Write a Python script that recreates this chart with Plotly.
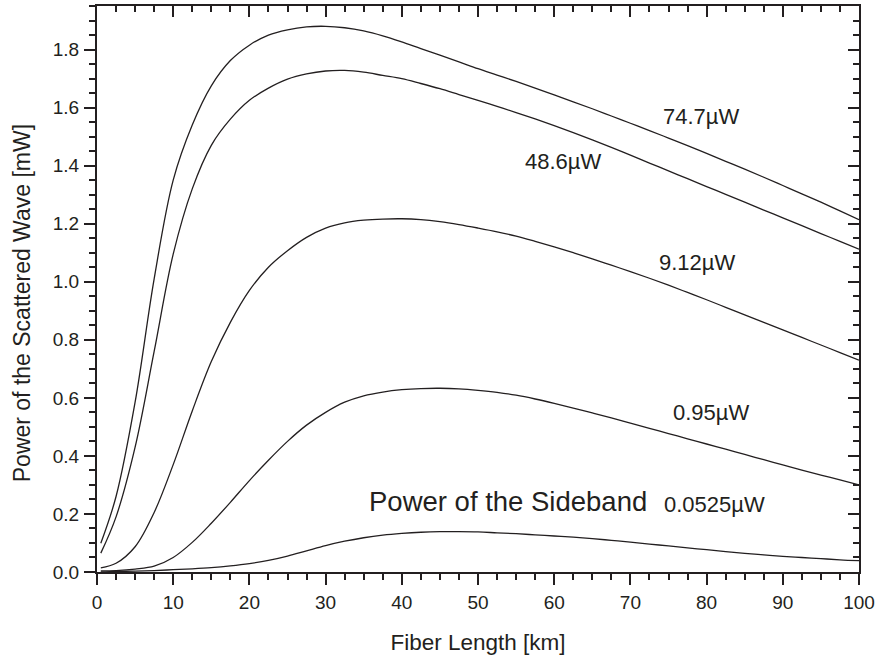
import plotly.graph_objects as go

# ---- data (fiber length in km, power in mW) ----
fiber_km = [0.5, 2.5, 5, 7.5, 10, 12.5, 15, 17.5, 20, 22.5, 25, 27.5, 30, 32.5, 35, 37.5, 40,
            42.5, 45, 47.5, 50, 52.5, 55, 57.5, 60, 62.5, 65, 67.5, 70, 72.5, 75, 77.5, 80,
            82.5, 85, 87.5, 90, 92.5, 95, 97.5, 100]

p_747 = [0.099, 0.26, 0.585, 1.01, 1.35, 1.54, 1.675, 1.762, 1.815, 1.85, 1.868, 1.878, 1.88,
         1.875, 1.864, 1.847, 1.826, 1.803, 1.7805, 1.7575, 1.734, 1.712, 1.69, 1.667, 1.6435,
         1.62, 1.596, 1.571, 1.546, 1.521, 1.495, 1.469, 1.442, 1.415, 1.388, 1.36, 1.3315,
         1.303, 1.274, 1.244, 1.214]

p_486 = [0.065, 0.19, 0.43, 0.76, 1.095, 1.32, 1.47, 1.56, 1.625, 1.667, 1.698, 1.716, 1.726,
         1.728, 1.722, 1.711, 1.70, 1.683, 1.665, 1.645, 1.625, 1.604, 1.583, 1.561, 1.538,
         1.514, 1.489, 1.463, 1.436, 1.409, 1.382, 1.355, 1.328, 1.301, 1.274, 1.247, 1.22,
         1.193, 1.166, 1.139, 1.112]

p_912 = [0.014, 0.03, 0.087, 0.205, 0.37, 0.555, 0.725, 0.86, 0.97, 1.05, 1.107, 1.153, 1.185,
         1.203, 1.212, 1.216, 1.217, 1.214, 1.207, 1.197, 1.185, 1.172, 1.157, 1.139, 1.12,
         1.10, 1.079, 1.057, 1.035, 1.012, 0.988, 0.963, 0.938, 0.912, 0.886, 0.86, 0.834,
         0.808, 0.782, 0.756, 0.73]

p_095 = [0.004, 0.005, 0.01, 0.02, 0.05, 0.102, 0.168, 0.24, 0.315, 0.385, 0.45, 0.506, 0.55,
         0.585, 0.607, 0.62, 0.628, 0.632, 0.633, 0.631, 0.626, 0.619, 0.609, 0.596, 0.581,
         0.565, 0.548, 0.531, 0.513, 0.495, 0.477, 0.459, 0.441, 0.423, 0.405, 0.387, 0.369,
         0.351, 0.334, 0.317, 0.30]

p_0525 = [0.0, 0.002, 0.003, 0.005, 0.008, 0.011, 0.015, 0.021, 0.029, 0.04, 0.055, 0.073,
          0.091, 0.106, 0.118, 0.127, 0.133, 0.137, 0.139, 0.139, 0.138, 0.135, 0.132, 0.128,
          0.124, 0.12, 0.115, 0.109, 0.103, 0.096, 0.09, 0.083, 0.077, 0.07, 0.064, 0.059,
          0.054, 0.05, 0.046, 0.042, 0.039]

series_names = ["74.7µW", "48.6µW", "9.12µW", "0.95µW", "0.0525µW"]
series_values = [p_747, p_486, p_912, p_095, p_0525]

# curve labels (text, anchor in data units)
label_texts = ["74.7µW", "48.6µW", "9.12µW", "0.95µW", "0.0525µW"]
label_x = [79.2, 61.2, 78.8, 80.6, 81.0]
label_y = [1.57, 1.416, 1.067, 0.549, 0.233]
sideband_text = "Power of the Sideband"
sideband_x = 72.5
sideband_y = 0.243

x_title = "Fiber Length [km]"
y_title = "Power of the Scattered Wave [mW]"

FONT = "Liberation Sans, Arial, sans-serif"
INK = "#231f20"

fig = go.Figure()
for name, ys in zip(series_names, series_values):
    fig.add_trace(go.Scatter(x=fiber_km, y=ys, mode="lines", name=name,
                             line=dict(color=INK, width=1.3, shape="spline", smoothing=1.0),
                             showlegend=False, hoverinfo="skip"))

# invisible trace so the mirrored (inside) tick axes are drawn
fig.add_trace(go.Scatter(x=[None], y=[None], xaxis="x2", yaxis="y2", showlegend=False))

xr = [0, 100]
yr = [0, 1.95]

fig.update_layout(
    width=879, height=655,
    margin=dict(l=97, r=19, t=4, b=81),
    paper_bgcolor="white", plot_bgcolor="white",
    font=dict(family=FONT, color=INK, size=19),
    xaxis=dict(range=xr, dtick=10, tick0=0, ticks="outside", ticklen=11, tickwidth=2,
               tickcolor=INK, showline=True, linewidth=2, linecolor=INK, mirror=True,
               showgrid=False, zeroline=False, tickfont=dict(size=19), ticklabelstandoff=1,
               minor=dict(dtick=2.5, ticks="outside", ticklen=6, tickwidth=2, tickcolor=INK, showgrid=False),
               title=dict(text=x_title, font=dict(size=22.5), standoff=22)),
    yaxis=dict(range=yr, dtick=0.2, tick0=0, tickformat=".1f", ticks="outside", ticklen=11, tickwidth=2,
               tickcolor=INK, showline=True, linewidth=2, linecolor=INK, mirror=True,
               showgrid=False, zeroline=False, tickfont=dict(size=19), ticklabelstandoff=1,
               minor=dict(dtick=0.05, ticks="outside", ticklen=6, tickwidth=2, tickcolor=INK, showgrid=False)),
    xaxis2=dict(range=xr, overlaying="x", side="top", dtick=10, tick0=0, ticks="inside", ticklen=11,
                tickwidth=2, tickcolor=INK, showticklabels=False, showline=False, showgrid=False,
                zeroline=False,
                minor=dict(dtick=2.5, ticks="inside", ticklen=6, tickwidth=2, tickcolor=INK, showgrid=False)),
    yaxis2=dict(range=yr, overlaying="y", side="right", dtick=0.2, tick0=0, ticks="inside", ticklen=11,
                tickwidth=2, tickcolor=INK, showticklabels=False, showline=False, showgrid=False,
                zeroline=False,
                minor=dict(dtick=0.05, ticks="inside", ticklen=6, tickwidth=2, tickcolor=INK, showgrid=False)),
)

for t, lx, ly in zip(label_texts, label_x, label_y):
    fig.add_annotation(x=lx, y=ly, text=t, showarrow=False, xanchor="center", yanchor="middle",
                       font=dict(size=22, family=FONT, color=INK))

fig.add_annotation(x=sideband_x, y=sideband_y, text=sideband_text, showarrow=False,
                   xanchor="right", yanchor="middle", font=dict(size=27.5, family=FONT, color=INK))

fig.add_annotation(x=-0.098, y=0.927, xref="paper", yref="y", text=y_title, textangle=-90,
                   showarrow=False, xanchor="center", yanchor="middle",
                   font=dict(size=23, family=FONT, color=INK))

fig.write_html("out.html", config={"displayModeBar": False},
               post_script="document.body.style.margin='0';")
